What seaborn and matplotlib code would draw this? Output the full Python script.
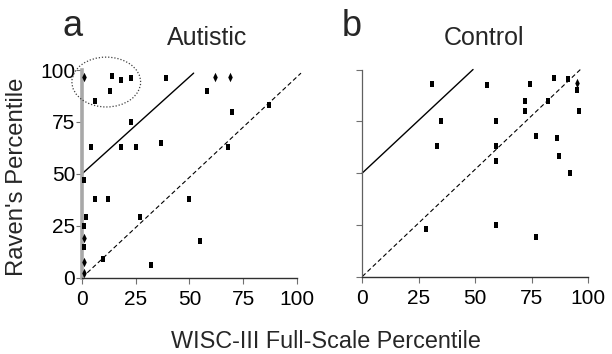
import numpy as np
import pandas as pd
import matplotlib
matplotlib.use("Agg")
import matplotlib.pyplot as plt
from matplotlib.patches import Ellipse
import seaborn as sns

# ---- data ----
aut_sq_x = [14, 18, 23, 39, 13, 58, 6, 70, 87, 23, 4, 18, 25, 37, 68, 1, 6, 12, 50, 2, 27, 1, 1, 55, 10, 32]
aut_sq_y = [97, 95, 96, 96, 90, 90, 85, 80, 83, 75, 63, 63, 63, 65, 63, 47, 38, 38, 38, 29, 29, 25, 15, 17.5, 9, 6]
aut_di_x = [1, 62, 69, 1, 1, 1]
aut_di_y = [96.5, 96.5, 96.5, 19, 7.5, 2.5]

con_sq_x = [31, 55, 74, 85, 91, 95, 72, 82, 72, 96, 35, 59, 77, 86, 33, 59, 59, 87, 92, 28, 59, 77]
con_sq_y = [93, 92.5, 93, 96, 95.5, 90, 85, 85, 80, 80, 75, 75, 68, 67, 63, 63, 56, 58, 50, 23, 25, 19]
con_di_x = [95]
con_di_y = [93.5]

# reference lines (endpoints)
aut_solid_x, aut_solid_y = [0, 52], [50, 98.5]
aut_dash_x, aut_dash_y = [0, 102], [0, 98.5]
con_solid_x, con_solid_y = [0, 49], [50, 100]
con_dash_x, con_dash_y = [0, 96.5], [0, 100]

ticks = [0, 25, 50, 75, 100]

sns.set_theme(style="white")
plt.rcParams['font.family'] = ['Liberation Sans', 'DejaVu Sans']

fig = plt.figure(figsize=(6.12, 3.54), dpi=100)
W, H = 612, 354
axA = fig.add_axes([82 / W, 1 - 277.7 / H, (296.7 - 82) / W, (277.7 - 70) / H])
axB = fig.add_axes([362.3 / W, 1 - 276.5 / H, (588.3 - 362.3) / W, (276.5 - 69.5) / H])

sq = [(-0.33, -0.5), (0.33, -0.5), (0.33, 0.5), (-0.33, 0.5)]
di = [(0, 0.5), (0.24, 0), (0, -0.5), (-0.24, 0)]


def panel(ax, sx, sy, dx, dy, solx, soly, dasx, dasy, left_color, left_w, show_ylabels):
    sns.lineplot(x=solx, y=soly, ax=ax, color='black', lw=1.0, legend=False)
    sns.lineplot(x=dasx, y=dasy, ax=ax, color='black', lw=0.8, legend=False)
    ax.lines[-1].set_dashes([4, 2.5])
    sns.scatterplot(x=sx, y=sy, ax=ax, marker=sq, s=20, color='black',
                    linewidth=0, legend=False, clip_on=False, zorder=5)
    sns.scatterplot(x=dx, y=dy, ax=ax, marker=di, s=46, color='black',
                    linewidth=0, legend=False, clip_on=False, zorder=5)
    for l in ax.lines:
        l.set_clip_on(False)
    ax.set_xlim(0, 100)
    ax.set_ylim(0, 100)
    ax.set_xticks(ticks)
    ax.set_yticks(ticks)
    ax.set_xticklabels([str(t) for t in ticks])
    if show_ylabels:
        ax.set_yticklabels([str(t) for t in ticks])
    else:
        ax.set_yticklabels([])
    for s in ['top', 'right']:
        ax.spines[s].set_visible(False)
    ax.spines['bottom'].set_color('#303030')
    ax.spines['bottom'].set_linewidth(1.0)
    ax.spines['left'].set_color(left_color)
    ax.spines['left'].set_linewidth(left_w)
    ax.tick_params(axis='both', which='major', length=4, width=0.8, color='#707070',
                   direction='out', labelsize=15, labelcolor='black', pad=4,
                   bottom=True, left=True)
    ax.tick_params(axis='x', pad=5)
    ax.tick_params(axis='y', pad=1)
    ax.set_xlabel('')
    ax.set_ylabel('')
    ax.patch.set_alpha(0)


panel(axA, aut_sq_x, aut_sq_y, aut_di_x, aut_di_y, aut_solid_x, aut_solid_y,
      aut_dash_x, aut_dash_y, '#a8a8a8', 2.6, True)
panel(axB, con_sq_x, con_sq_y, con_di_x, con_di_y, con_solid_x, con_solid_y,
      con_dash_x, con_dash_y, '#606060', 0.9, False)

ell = Ellipse((11.3, 94.2), 32, 24, fill=False, linestyle=(0, (1, 1.5)),
              edgecolor='#404040', lw=0.9, clip_on=False, zorder=4)
axA.add_patch(ell)

fig.text(72.5 / W, 1 - 36 / H, 'a', fontsize=26, ha='center', va='baseline')
fig.text(207 / W, 1 - 45 / H, 'Autistic', fontsize=18, ha='center', va='baseline')
fig.text(352 / W, 1 - 36 / H, 'b', fontsize=26, ha='center', va='baseline')
fig.text(484 / W, 1 - 45 / H, 'Control', fontsize=18, ha='center', va='baseline')
fig.text(326 / W, 1 - 348 / H, 'WISC-III Full-Scale Percentile', fontsize=16.8,
         ha='center', va='baseline')
fig.text(17.5 / W, 1 - 176.5 / H, "Raven's Percentile", fontsize=17.2,
         ha='center', va='center', rotation=90)

fig.savefig('out.png', dpi=100)
